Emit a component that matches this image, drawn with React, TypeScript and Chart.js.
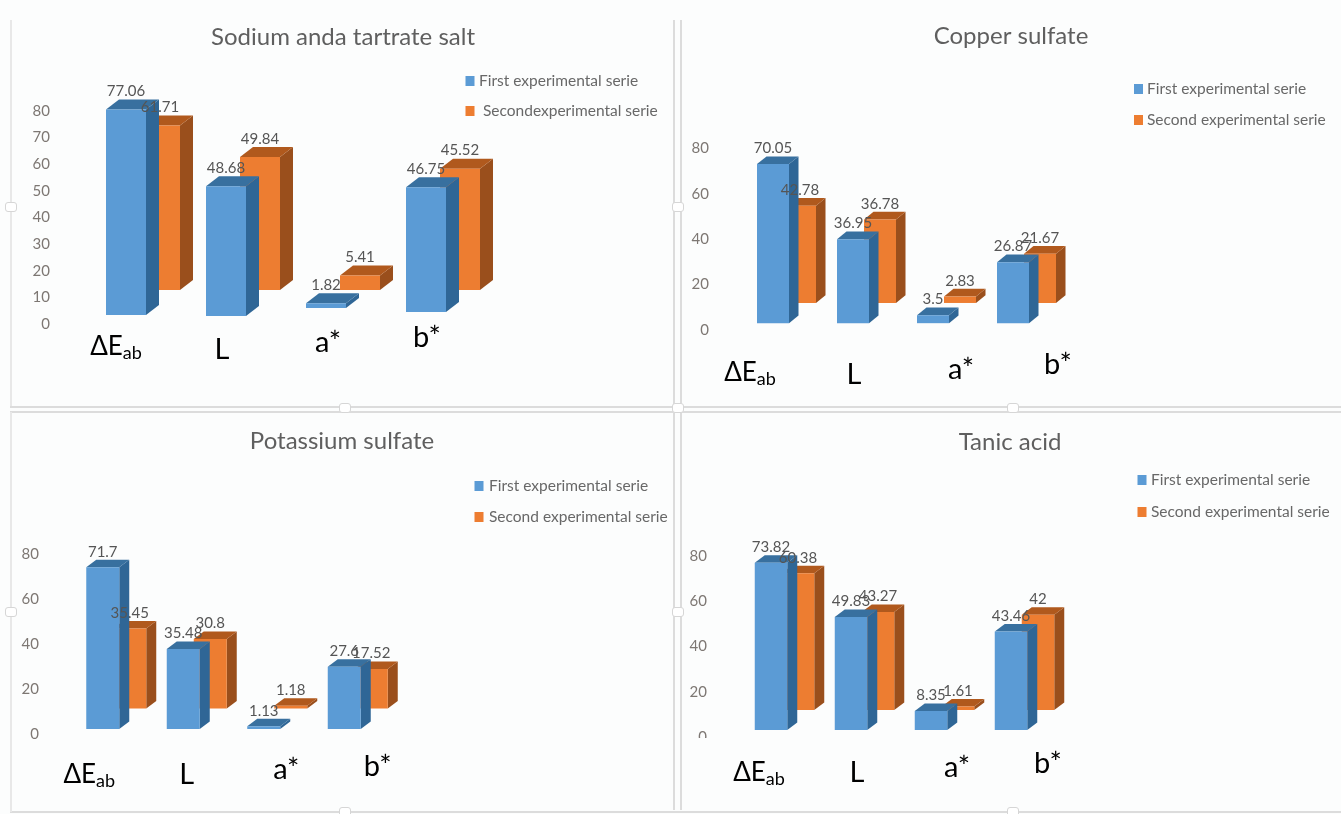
import React, { useEffect, useRef } from "react";
import { Chart, registerables } from "chart.js";

Chart.register(...registerables);

// Shared categories and series names
const categories = ["ΔE", "L", "a*", "b*"];
const categorySubscripts = ["ab", "", "", ""];
const firstSerie = "First experimental serie";
const secondSerie = "Second experimental serie";
const secondSerieSodium = "Secondexperimental serie";

// Measured colour values per salt
const sodiumFirst = [77.06, 48.68, 1.82, 46.75];
const sodiumSecond = [61.71, 49.84, 5.41, 45.52];
const copperFirst = [70.05, 36.95, 3.5, 26.87];
const copperSecond = [42.78, 36.78, 2.83, 21.67];
const potassiumFirst = [71.7, 35.48, 1.13, 27.6];
const potassiumSecond = [35.45, 30.8, 1.18, 17.52];
const tanicFirst = [73.82, 49.83, 8.35, 43.46];
const tanicSecond = [60.38, 43.27, 1.61, 42];

// Where each column starts above zero, in axis units (the pseudo-3D floor)
const sodiumFirstFloor = [3.4, 3, 6, 4.5];
const sodiumSecondFloor = [12.75, 12.75, 12.75, 12.75];
const copperFirstFloor = [3, 3, 3, 3];
const copperSecondFloor = [11.9, 11.9, 11.9, 11.9];
const potassiumFirstFloor = [2.4, 2.4, 2.4, 2.4];
const potassiumSecondFloor = [11.5, 11.5, 11.5, 11.5];
const tanicFirstFloor = [3.1, 3.1, 3.1, 3.1];
const tanicSecondFloor = [11.9, 11.9, 11.9, 11.9];

const FONT = "Lato, 'Open Sans', sans-serif";
const FRONT = { first: "#5b9bd5", second: "#ed7d31" };
const SIDE = { first: "#2f6696", second: "#9a4f1c" };
const TOP = { first: "#38709f", second: "#b0591d" };

type Panel = {
  title: string;
  first: number[];
  second: number[];
  firstFloor: number[];
  secondFloor: number[];
  secondLabel: string;
  box: { x: number; y: number; w: number; h: number };
  tickTop: number;
  tickZero: number;
  step: number;
  tickRight: number;
  left: number;
  right: number;
  barWidth: number;
  barOffset: number;
  depth: [number, number];
  labelDx: number[];
  labelY: number[];
  legendX: number;
  legendTextX: number[];
  legendY: number[];
};

const panels: Panel[] = [
  {
    title: "Sodium anda tartrate salt",
    first: sodiumFirst,
    second: sodiumSecond,
    firstFloor: sodiumFirstFloor,
    secondFloor: sodiumSecondFloor,
    secondLabel: secondSerieSodium,
    box: { x: 0, y: 0, w: 686, h: 408 },
    tickTop: 110.7,
    tickZero: 324,
    step: 10,
    tickRight: 50,
    left: 93,
    right: 493,
    barWidth: 40,
    barOffset: 34,
    depth: [13, 10],
    labelDx: [-27, -21, -15, -16],
    labelY: [347, 350, 343, 338],
    legendX: 470,
    legendTextX: [479, 483],
    legendY: [81, 111],
  },
  {
    title: "Copper sulfate",
    first: copperFirst,
    second: copperSecond,
    firstFloor: copperFirstFloor,
    secondFloor: copperSecondFloor,
    secondLabel: secondSerie,
    box: { x: 681, y: 0, w: 660, h: 408 },
    tickTop: 148.3,
    tickZero: 330,
    step: 20,
    tickRight: 709,
    left: 746.5,
    right: 1066.5,
    barWidth: 32,
    barOffset: 27,
    depth: [9.5, 7.7],
    labelDx: [-36.5, -12.5, 14.5, 31.5],
    labelY: [373, 375, 370, 365],
    legendX: 1138.5,
    legendTextX: [1147, 1147],
    legendY: [89, 120],
  },
  {
    title: "Potassium sulfate",
    first: potassiumFirst,
    second: potassiumSecond,
    firstFloor: potassiumFirstFloor,
    secondFloor: potassiumSecondFloor,
    secondLabel: secondSerie,
    box: { x: 0, y: 408, w: 684, h: 406 },
    tickTop: 554,
    tickZero: 734.3,
    step: 20,
    tickRight: 39,
    left: 76,
    right: 398,
    barWidth: 33,
    barOffset: 27,
    depth: [10, 7.5],
    labelDx: [-27, -10, 9, 20],
    labelY: [775, 775, 770, 767],
    legendX: 479,
    legendTextX: [489, 489],
    legendY: [486, 517],
  },
  {
    title: "Tanic acid",
    first: tanicFirst,
    second: tanicSecond,
    firstFloor: tanicFirstFloor,
    secondFloor: tanicSecondFloor,
    secondLabel: secondSerie,
    box: { x: 680, y: 408, w: 660, h: 406 },
    tickTop: 555.7,
    tickZero: 737,
    step: 20,
    tickRight: 707,
    left: 744.5,
    right: 1064.5,
    barWidth: 32.5,
    barOffset: 27,
    depth: [10, 7.5],
    labelDx: [-25.5, -7.5, 12.5, 23.5],
    labelY: [773, 773, 768, 764],
    legendX: 1142,
    legendTextX: [1151, 1151],
    legendY: [480, 512],
  },
];

const TITLE_SIZE = 24;
const TITLE_CENTER = [37, 36, 441, 442];

function makePlugin(p: Panel) {
  const ox = p.box.x;
  const oy = p.box.y;
  const [dx, dy] = p.depth;
  return {
    id: "columns3d",
    // The title centres on the whole canvas, not on the narrowed plot side
    afterLayout(chart: any) {
      if (chart.titleBlock) {
        chart.titleBlock.left = 0;
        chart.titleBlock.right = chart.width;
      }
    },
    // Side and top faces go under the front face that Chart.js paints next
    beforeDatasetDraw(chart: any, args: any) {
      const ctx = chart.ctx;
      const key = args.index === 0 ? "first" : "second";
      chart.getDatasetMeta(args.index).data.forEach((el: any) => {
        const { x, y, base, width } = el.getProps(["x", "y", "base", "width"], true);
        const l = x - width / 2;
        const r = x + width / 2;
        ctx.fillStyle = (SIDE as any)[key];
        ctx.beginPath();
        ctx.moveTo(r, y);
        ctx.lineTo(r + dx, y - dy);
        ctx.lineTo(r + dx, base - dy);
        ctx.lineTo(r, base);
        ctx.closePath();
        ctx.fill();
        ctx.fillStyle = (TOP as any)[key];
        ctx.beginPath();
        ctx.moveTo(l, y);
        ctx.lineTo(l + dx, y - dy);
        ctx.lineTo(r + dx, y - dy);
        ctx.lineTo(r, y);
        ctx.closePath();
        ctx.fill();
      });
    },
    afterDraw(chart: any) {
      const ctx = chart.ctx;
      ctx.save();
      ctx.textBaseline = "middle";

      // Value labels above each column
      ctx.textAlign = "center";
      ctx.font = `15px ${FONT}`;
      ctx.fillStyle = "#555555";
      [1, 0].forEach((i) => {
        const values = chart.data.datasets[i].values;
        chart.getDatasetMeta(i).data.forEach((el: any, k: number) => {
          const { x, y } = el.getProps(["x", "y"], true);
          ctx.fillText(String(values[k]), x, y - dy - 8);
        });
      });

      // Category labels with the subscript on the colour difference
      ctx.fillStyle = "#000000";
      categories.forEach((name, i) => {
        const cx = chart.scales.x.getPixelForTick(i) + p.labelDx[i];
        const cy = p.labelY[i] - oy;
        const sub = categorySubscripts[i];
        ctx.textAlign = "left";
        if (sub) {
          ctx.font = `26px ${FONT}`;
          const mainW = ctx.measureText(name).width;
          ctx.font = `18px ${FONT}`;
          const subW = ctx.measureText(sub).width;
          const start = cx - (mainW + subW) / 2;
          ctx.fillText(sub, start + mainW, cy + 6);
          ctx.font = `26px ${FONT}`;
          ctx.fillText(name, start, cy);
        } else {
          ctx.font = `29px ${FONT}`;
          ctx.fillText(name, cx - ctx.measureText(name).width / 2, cy);
        }
      });

      // Legend
      ctx.font = `15.5px ${FONT}`;
      chart.data.datasets.forEach((ds: any, i: number) => {
        const ly = p.legendY[i] - oy;
        ctx.fillStyle = ds.backgroundColor;
        ctx.fillRect(p.legendX - ox - 4.5, ly - 5, 9, 10);
        ctx.fillStyle = "#686868";
        ctx.fillText(ds.label, p.legendTextX[i] - ox, ly);
      });
      ctx.restore();
    },
  };
}

function ChartPanel({ panel, index }: { panel: Panel; index: number }) {
  const ref = useRef<HTMLCanvasElement>(null);
  useEffect(() => {
    const { box } = panel;
    const titleLine = TITLE_SIZE * 1.2;
    const titleTop = TITLE_CENTER[index] - box.y - titleLine / 2;
    const chart = new Chart(ref.current as HTMLCanvasElement, {
      type: "bar",
      data: {
        labels: categories,
        datasets: [
          {
            label: firstSerie,
            values: panel.first,
            data: panel.first.map((v, i) => [panel.firstFloor[i], panel.firstFloor[i] + v]),
            backgroundColor: FRONT.first,
            order: 0,
            clip: false,
          },
          {
            label: panel.secondLabel,
            values: panel.second,
            data: panel.second.map((v, i) => [panel.secondFloor[i], panel.secondFloor[i] + v]),
            backgroundColor: FRONT.second,
            order: 1,
            clip: false,
          },
        ] as any,
      },
      options: {
        animation: false,
        responsive: false,
        datasets: {
          bar: {
            // Two slots per category, each slot as wide as the offset between series
            categoryPercentage: (2 * panel.barOffset) / ((panel.right - panel.left) / 4),
            barPercentage: panel.barWidth / panel.barOffset,
          },
        },
        layout: {
          padding: {
            left: 0,
            right: box.x + box.w - panel.right,
            top: 0,
            bottom: box.y + box.h - panel.tickZero,
          },
        },
        plugins: {
          legend: { display: false },
          tooltip: { enabled: false },
          title: {
            display: true,
            text: panel.title,
            color: "#5f5f5f",
            font: { family: FONT, size: TITLE_SIZE, weight: "normal", lineHeight: 1.2 },
            padding: {
              top: titleTop,
              bottom: panel.tickTop - box.y - titleTop - titleLine,
            },
          },
        },
        scales: {
          x: {
            ticks: { display: false },
            grid: { display: false, drawTicks: false },
            border: { display: false },
          },
          y: {
            min: 0,
            max: 80,
            afterFit: (scale: any) => {
              scale.width = panel.left - box.x;
            },
            ticks: {
              stepSize: panel.step,
              padding: panel.left - panel.tickRight,
              color: "#7d7773",
              font: { family: FONT, size: 15 },
            },
            grid: { display: false, drawTicks: false },
            border: { display: false },
          },
        },
      } as any,
      plugins: [makePlugin(panel)],
    });
    return () => chart.destroy();
  }, [panel, index]);
  const { box } = panel;
  return (
    <canvas
      ref={ref}
      width={box.w}
      height={box.h}
      style={{ position: "absolute", left: box.x, top: box.y, width: box.w, height: box.h, display: "block" }}
    />
  );
}

// Frame rules and resize handles of the chart objects
const RULE = "#dcdcdc";
const hLines = [
  { x: 10, y: 406, w: 1331 },
  { x: 10, y: 411, w: 1331 },
  { x: 10, y: 811, w: 1331 },
];
const vLines = [
  { x: 10, y: 20, h: 386, c: "#e8e8e8" },
  { x: 673, y: 20, h: 790, c: RULE },
  { x: 680, y: 20, h: 790, c: RULE },
  { x: 10, y: 412, h: 400, c: "#e8e8e8" },
];
const handles = [
  [345, 408],
  [1013, 408],
  [678, 408],
  [678, 207],
  [678, 612],
  [345, 812],
  [1013, 812],
  [11, 207],
  [11, 612],
];

export default function App() {
  return (
    <div style={{ position: "absolute", left: 0, top: 0, width: 1341, height: 814, background: "#fcfdfd", overflow: "hidden" }}>
      {hLines.map((l, i) => (
        <div key={i} style={{ position: "absolute", left: l.x, top: l.y, width: l.w, height: 2, background: RULE }} />
      ))}
      {vLines.map((l, i) => (
        <div key={i} style={{ position: "absolute", left: l.x, top: l.y, width: 2, height: l.h, background: l.c }} />
      ))}
      {handles.map(([x, y], i) => (
        <div
          key={i}
          style={{
            position: "absolute",
            left: x - 6,
            top: y - 5,
            width: 10,
            height: 8,
            background: "#ffffff",
            border: "1px solid #d6d6d6",
            borderRadius: 3,
          }}
        />
      ))}
      {panels.map((p, i) => (
        <ChartPanel key={p.title} panel={p} index={i} />
      ))}
      {/* The last tick label of the lower right panel is cut off by its frame */}
      <div style={{ position: "absolute", left: 688, top: 738, width: 24, height: 10, background: "#fcfdfd" }} />
    </div>
  );
}
